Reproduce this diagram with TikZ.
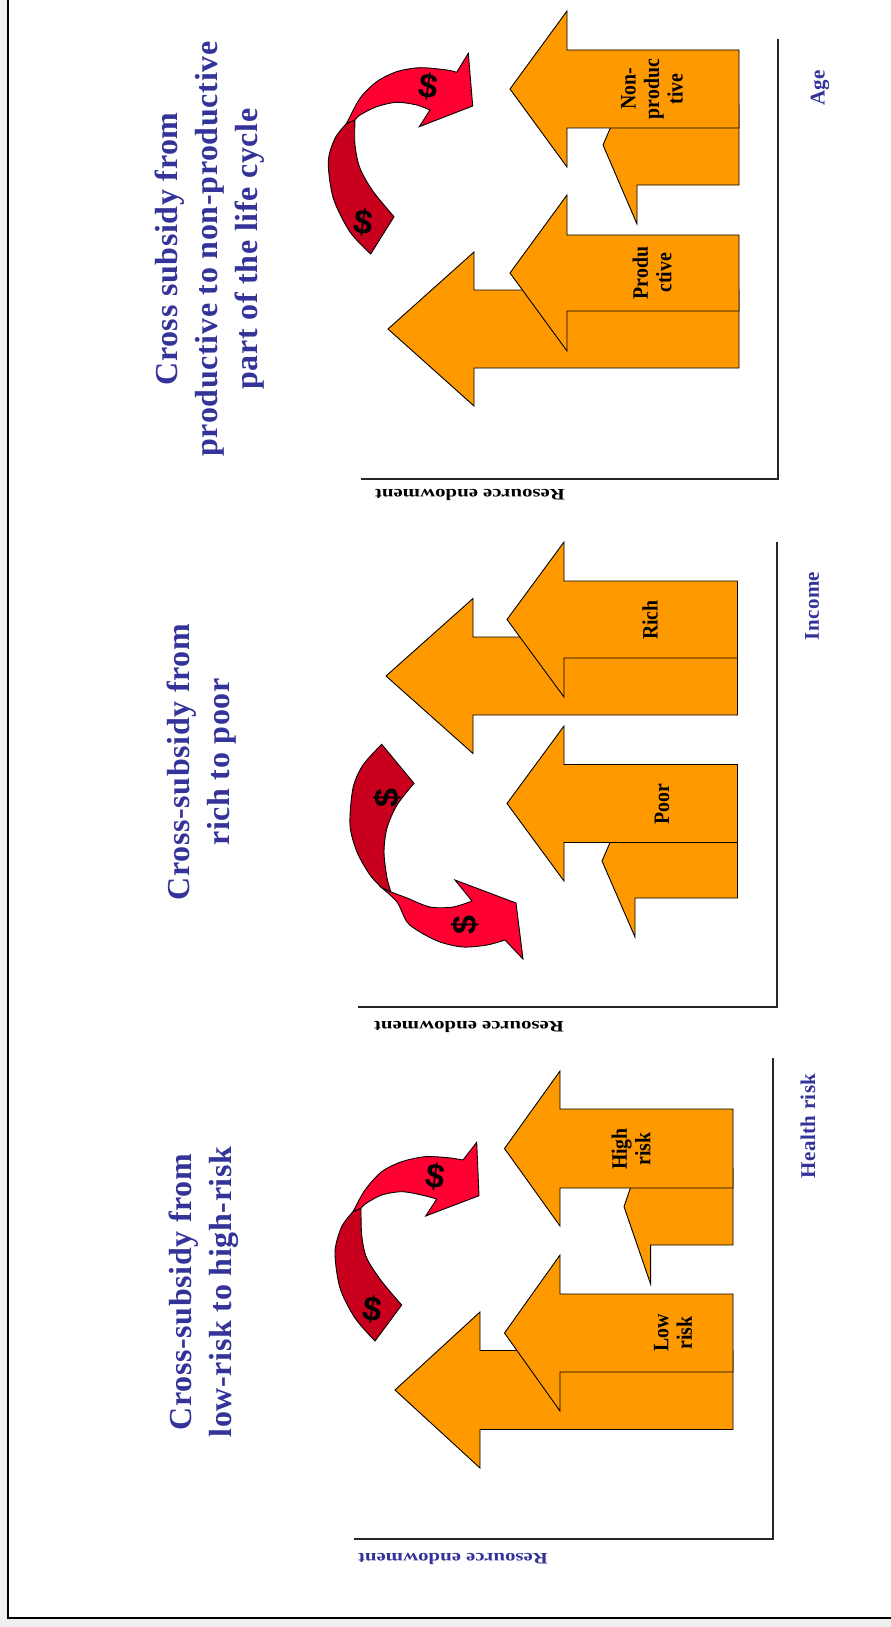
\documentclass[tikz,border=0pt]{standalone}
\usepackage{fontspec}
\setmainfont{Liberation Serif}
\newfontfamily\titlefont[LetterSpace=2]{Liberation Serif}
\newfontfamily\axisfont[LetterSpace=2]{Liberation Serif}
\newfontfamily\endowfont[FakeStretch=1.3]{Liberation Serif}
\newfontfamily\boxfont[FakeStretch=0.9]{Liberation Serif}
\newfontfamily\dollarfont{Liberation Sans}
\definecolor{titleblue}{HTML}{333399}
\definecolor{arroworange}{HTML}{FF9900}
\definecolor{darkred}{HTML}{C8001E}
\definecolor{lightred}{HTML}{FF0033}
\definecolor{bggray}{HTML}{F0F0F0}
\tikzset{
  blockarrow/.style={draw=black, line width=0.9pt, fill=arroworange, line join=miter},
  curvedark/.style={draw=black, line width=0.9pt, fill=darkred},
  curvelight/.style={draw=black, line width=0.9pt, fill=lightred},
  axisline/.style={line width=1.8pt, draw=black!85},
  title/.style={rotate=90, align=center, inner sep=0pt, text=titleblue, font={\titlefont\bfseries\fontsize{32}{40}\selectfont}},
  axislabel/.style={rotate=90, inner sep=0pt, text=titleblue, font={\axisfont\bfseries\fontsize{21}{24}\selectfont}},
  endow/.style={rotate=180, inner sep=0pt, text=black, font={\endowfont\bfseries\fontsize{16}{20}\selectfont}},
  boxlabel/.style={rotate=90, align=center, inner sep=0pt, text=black, font={\boxfont\bfseries\fontsize{22}{23.5}\selectfont}},
  dollar/.style={inner sep=0pt, text=black, font={\dollarfont\bfseries\fontsize{34}{34}\selectfont}}
}
% tip (x,y), head base x, head half, shaft half, right end x
\def\orangearrow(#1,#2)(#3:#4:#5:#6){\draw[blockarrow] (#1,#2) -- (#3,#2-#4) -- (#3,#2-#5) -- (#6,#2-#5) -- (#6,#2+#5) -- (#3,#2+#5) -- (#3,#2+#4) -- cycle;}

\begin{document}
\begin{tikzpicture}[x=1pt, y=-1pt]
	%%%%% START %%%%%
	\useasboundingbox (0,0) rectangle (891,1627);
	\fill[bggray] (0,0) rectangle (891,1627);
	\fill[white] (8,-5) rectangle (896,1618);
	\draw[line width=2.5pt] (8,-5) -- (8,1618) -- (896,1618);
	
	%% age panel
	\draw[axisline] (778,39) -- (778,479) -- (361,479);
	\orangearrow(388,329)(474:77:39:739)
	\orangearrow(510,273)(567:78:38:739)
	\orangearrow(603,145)(637:79:40:739)
	\orangearrow(510,89)(567:78:39:739)
	
	\draw[curvedark] plot[smooth] coordinates {(370.7,254) (350,232) (333.3,198.3) (328.3,161.7) (335,138.3) (346.7,123.3)} -- plot[smooth] coordinates {(355,120) (355,145) (360,168.3) (373.3,191.7) (394,216.7)} -- cycle;
	\draw[curvelight] plot[smooth] coordinates {(346.7,123.3) (360,98.3) (376.7,81.7) (396.7,71.7) (420,67.7) (446.7,70) (456.7,72.3)} -- (468.3,53.3) -- (472.7,106) -- (419.3,126.7) -- plot[smooth] coordinates {(430,110) (416.7,105) (396.7,102.3) (376.7,106.7) (360,115) (355,120)} -- cycle;
	\node[dollar, rotate=-8] (dollarAa) at (428,87) {\$};
	\node[dollar, rotate=-8] (dollarAb) at (363,223) {\$};
	
	\node[title] (titleage) at (210,249) {Cross subsidy from\\productive to non-productive\\part of the life cycle};
	\node[boxlabel] (nonprod) at (652,89) {Non-\\produc\\tive};
	\node[boxlabel] (prod) at (652,273) {Produ\\ctive};
	\node[axislabel] (age) at (820,88) {Age};
	\node[endow] (endowage) at (470,495) {Resource endowment};
	
	%% income panel
	\draw[axisline] (777,542) -- (777,1007) -- (358,1007);
	\orangearrow(386,676)(473:77.5:39:737.5)
	\orangearrow(507,619.5)(564:77.5:38.5:737.5)
	\orangearrow(602,861)(635:76:37:737.5)
	\orangearrow(507,803.5)(564:77.5:39:737.5)
	
	\draw[curvedark] plot[smooth] coordinates {(381.7,744.3) (363,765) (353,788) (350,825) (357,852) (370,875) (382,888)} -- plot[smooth] coordinates {(391,892) (387,878) (384,852) (387,828) (397,805) (414,783.3)} -- cycle;
	\draw[curvelight] plot[smooth] coordinates {(382,888) (397,902) (407,922) (420,932) (440,942) (463,947) (487,945) (505,940)} -- (523,959) -- (516,903) -- (455,880) -- plot[smooth] coordinates {(472,901) (453,907) (430,907) (407,898) (391,892)} -- cycle;
	\node[dollar, rotate=90] (dollarBa) at (387,798) {\$};
	\node[dollar, rotate=90] (dollarBb) at (465,925) {\$};
	
	\node[title] (titleincome) at (202,762) {Cross-subsidy from\\rich to poor};
	\node[boxlabel] (rich) at (650,620) {Rich};
	\node[boxlabel] (poor) at (662,804) {Poor};
	\node[axislabel] (income) at (812,606) {Income};
	\node[endow] (endowincome) at (469,1027) {Resource endowment};
	
	%% health risk panel
	\draw[axisline] (773,1058) -- (773,1539) -- (354,1539);
	\orangearrow(395,1390)(480:78:39.5:733)
	\orangearrow(504.5,1333)(560:78:39:733)
	\orangearrow(624,1206.6)(650.6:77.4:38.4:733)
	\orangearrow(504.5,1148.5)(560:77.5:39.5:733)
	
	\draw[curvedark] plot[smooth] coordinates {(375,1341) (355,1318) (340,1288) (335,1252) (341.7,1226.7) (353,1211.7)} -- plot[smooth] coordinates {(361,1208) (361.7,1235) (366.7,1258) (382,1281.7) (401.7,1305)} -- cycle;
	\draw[curvelight] plot[smooth] coordinates {(353,1211.7) (365,1190) (381.7,1171.7) (401.7,1161.7) (425,1156.7) (448,1157.7) (463,1160)} -- (476.7,1142.3) -- (479,1195.7) -- (425.7,1216) -- plot[smooth] coordinates {(436.7,1199) (421.7,1195) (401.7,1191.7) (381.7,1195) (366.7,1203) (361,1208)} -- cycle;
	\node[dollar, rotate=-8] (dollarCa) at (435,1177) {\$};
	\node[dollar, rotate=-8] (dollarCb) at (372,1310) {\$};
	
	\node[title] (titlehealth) at (203.5,1292) {Cross-subsidy from\\low-risk to high-risk};
	\node[boxlabel] (high) at (631,1149) {High\\risk};
	\node[boxlabel] (low) at (673,1333) {Low\\risk};
	\node[axislabel] (healthrisk) at (808,1126) {Health risk};
	\node[endow, text=titleblue] (endowhealth) at (453,1559) {Resource endowment};
	%%%%% END %%%%%
\end{tikzpicture}
\end{document}
